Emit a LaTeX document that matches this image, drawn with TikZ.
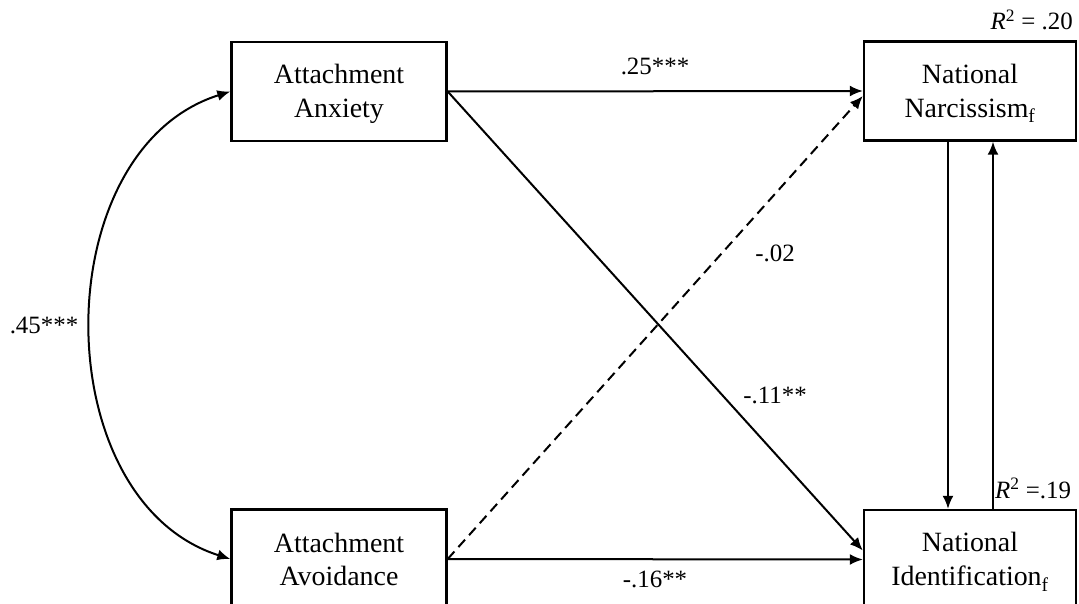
\documentclass[tikz,border=0pt]{standalone}
\usepackage{fontspec}
\setmainfont{Liberation Serif}
\usetikzlibrary{arrows.meta,calc}
\newcommand\bstr{\rule[-4bp]{0pt}{28bp}}
\begin{document}
\begin{tikzpicture}[x=1bp,y=-1bp,
  box/.style={draw, line width=2.4bp, minimum width=215bp, minimum height=99bp,
    inner sep=0pt, align=center, font=\fontsize{28}{34}\selectfont},
  arr/.style={line width=2bp, -{Latex[length=13bp,width=11bp]}},
  dsh/.style={dash pattern=on 10bp off 6bp},
  lab/.style={font=\fontsize{25}{30}\selectfont, inner sep=0pt, anchor=base}]
\useasboundingbox (0,0) rectangle (1079,604);
\node[box] (anx) at (339,91.5) {\bstr Attachment\\Anxiety\bstr};
\node[box, minimum width=212bp] (narc) at (970,91) {\bstr National\\Narcissism\textsubscript{f}\bstr};
\node[box] (avo) at (339,559) {\bstr Attachment\\Avoidance\bstr};
\node[box, minimum width=212bp] (iden) at (970,559.5) {\bstr National\\Identification\textsubscript{f}\bstr};

\draw[arr] (anx.east) -- (narc.west);
\draw[arr] (anx.east) -- ([yshift=9bp]iden.west);
\draw[arr] (avo.east) -- (iden.west);
\draw[arr, dsh] (avo.east) -- ([yshift=-5bp]narc.west);
\draw[arr] ([xshift=-22bp]narc.south) -- ([xshift=-22bp]iden.north);
\draw[arr] ([xshift=23bp]iden.north) -- ([xshift=23bp]narc.south);
\draw[line width=2bp, {Latex[length=13bp,width=11bp]}-{Latex[length=13bp,width=11bp]}]
  (avo.west) .. controls +(-185.5,-59) and +(-185.5,58.5) .. (anx.west);

\node[lab] (l25) at (655,75) {.25***};
\node[lab] (l16) at (655,587) {-.16**};
\node[lab] (l02) at (775,262) {-.02};
\node[lab] (l11) at (775,403) {-.11**};
\node[lab] (l45) at (44,333) {.45***};
\node[lab, anchor=base east] (r20) at (1073,30) {\textit{R}\textsuperscript{2} = .20};
\node[lab, anchor=base west] (r19) at (995,498) {\textit{R}\textsuperscript{2} =.19};
\end{tikzpicture}
\end{document}
